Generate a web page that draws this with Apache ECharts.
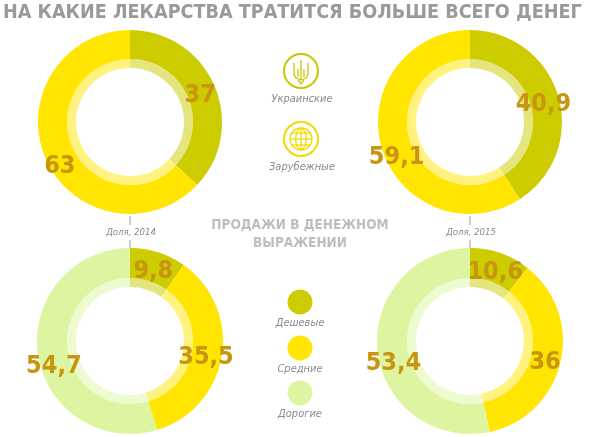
<!DOCTYPE html>
<html>
<head>
<meta charset="utf-8">
<script src="https://cdn.jsdelivr.net/npm/echarts@6/dist/echarts.min.js"></script>
<style>
  html, body { margin: 0; padding: 0; background: #fff; }
  #chart { width: 600px; height: 437px; }
</style>
</head>
<body>
<div id="chart"></div>
<script>
// данные
const yearLabels = ['Доля, 2014', 'Доля, 2015'];
const originNames = ['Украинские', 'Зарубежные'];
const origin2014 = [37, 63];
const origin2015 = [40.9, 59.1];
const priceNames = ['Дешевые', 'Средние', 'Дорогие'];
const price2014 = [9.8, 35.5, 54.7];
const price2015 = [10.6, 36, 53.4];

const originColors = ['#CCCC00', '#FFE500'];
const priceColors = ['#CCCC00', '#FFE500', '#DDF5A0'];

const FONT = '"DejaVu Sans Condensed", "Liberation Sans Narrow", Roboto, sans-serif';
const GREY = '#9a9a9a';

// одна "бублик"-диаграмма = внешнее кольцо + светлое внутреннее
function makeDonut(values, names, colors, center, outerR) {
  const data = values.map((v, i) => ({
    name: names[i],
    value: v,
    itemStyle: { color: colors[i] }
  }));
  const last = values.length - 1;
  return [
    {
      type: 'pie',
      center: center,
      radius: [63, outerR],
      startAngle: 90,
      clockwise: true,
      silent: true,
      label: {
        show: true,
        position: 'inside',
        formatter: p => String(p.value).replace('.', ','),
        color: '#C8950F',
        fontFamily: FONT,
        fontWeight: 'bold',
        fontSize: 25
      },
      // чуть ближе к центру и ниже, как в оригинале
      labelLayout: p => {
        const r = p.labelRect;
        const lx = r.x + r.width / 2;
        const ly = r.y + r.height / 2;
        const vx = lx - center[0];
        const vy = ly - center[1];
        const d = Math.hypot(vx, vy) || 1;
        return {
          x: lx - vx / d * 4,
          y: ly - vy / d * 4 + (p.dataIndex === last ? 14 : 4),
          align: 'center',
          verticalAlign: 'middle'
        };
      },
      labelLine: { show: false },
      data: data
    },
    {
      type: 'pie',
      center: center,
      radius: [54, 63],
      startAngle: 90,
      clockwise: true,
      silent: true,
      label: { show: false },
      itemStyle: { opacity: 0.5 },
      data: data
    }
  ];
}

const series = [].concat(
  makeDonut(origin2014, originNames, originColors, [130, 122], 92),
  makeDonut(origin2015, originNames, originColors, [470, 122], 92),
  makeDonut(price2014, priceNames, priceColors, [130, 341], 93),
  makeDonut(price2015, priceNames, priceColors, [470, 341], 93)
);

function legendText(text, x, y) {
  return {
    type: 'text',
    x: x, y: y,
    style: {
      text: text,
      textAlign: 'center',
      textVerticalAlign: 'middle',
      fill: '#8a8a8a',
      font: 'italic 11px ' + FONT
    }
  };
}

function seg(x1, y1, x2, y2, color, w) {
  return {
    type: 'line',
    shape: { x1: x1, y1: y1, x2: x2, y2: y2 },
    style: { stroke: color, lineWidth: w }
  };
}

function poly(points, color) {
  return {
    type: 'polyline',
    shape: { points: points },
    style: { fill: 'none', stroke: color, lineWidth: 1.3 }
  };
}

const OLIVE = '#C8C800';
const GOLD = '#F2DB00';

const graphics = [
  {
    type: 'text', x: 3, y: 13,
    style: {
      text: 'НА КАКИЕ ЛЕКАРСТВА ТРАТИТСЯ БОЛЬШЕ ВСЕГО ДЕНЕГ',
      textVerticalAlign: 'middle',
      fill: GREY,
      font: 'bold 19.6px ' + FONT
    }
  },
  {
    type: 'text', x: 300, y: 234,
    style: {
      text: 'ПРОДАЖИ В ДЕНЕЖНОМ\nВЫРАЖЕНИИ',
      textAlign: 'center',
      textVerticalAlign: 'middle',
      lineHeight: 18,
      fill: '#bdbdbd',
      font: 'bold 13.5px ' + FONT
    }
  },
  // засечки и подписи лет
  seg(130, 216, 130, 225, '#999', 1), seg(130, 240, 130, 248, '#999', 1),
  seg(470, 216, 470, 225, '#999', 1), seg(470, 240, 470, 248, '#999', 1),
  {
    type: 'text', x: 131, y: 233,
    style: { text: yearLabels[0], textAlign: 'center', textVerticalAlign: 'middle', fill: '#8a8a8a', font: 'italic 9.5px ' + FONT }
  },
  {
    type: 'text', x: 471, y: 233,
    style: { text: yearLabels[1], textAlign: 'center', textVerticalAlign: 'middle', fill: '#8a8a8a', font: 'italic 9.5px ' + FONT }
  },
  // значок: трезубец
  {
    type: 'group', x: 301, y: 71,
    children: [
      { type: 'circle', shape: { cx: 0, cy: 0, r: 17 }, style: { fill: 'none', stroke: OLIVE, lineWidth: 2 } },
      seg(0, -11, 0, 9, OLIVE, 1.3),
      poly([[-7, -8], [-7, 3], [-5, 7], [0, 9], [5, 7], [7, 3], [7, -8]], OLIVE),
      seg(-3, -2, -3, 6, OLIVE, 1.3),
      seg(3, -2, 3, 6, OLIVE, 1.3),
      poly([[-3, 9], [0, 13], [3, 9]], OLIVE)
    ]
  },
  legendText(originNames[0], 302, 99),
  // значок: глобус
  {
    type: 'group', x: 301, y: 139,
    children: [
      { type: 'circle', shape: { cx: 0, cy: 0, r: 17 }, style: { fill: 'none', stroke: GOLD, lineWidth: 2 } },
      { type: 'circle', shape: { cx: 0, cy: 0, r: 11 }, style: { fill: 'none', stroke: GOLD, lineWidth: 1.3 } },
      {
        type: 'bezierCurve',
        shape: { x1: 0, y1: -11, x2: 0, y2: 11, cpx1: -7, cpy1: -8, cpx2: -7, cpy2: 8 },
        style: { fill: 'none', stroke: GOLD, lineWidth: 1.3 }
      },
      {
        type: 'bezierCurve',
        shape: { x1: 0, y1: -11, x2: 0, y2: 11, cpx1: 7, cpy1: -8, cpx2: 7, cpy2: 8 },
        style: { fill: 'none', stroke: GOLD, lineWidth: 1.3 }
      },
      seg(0, -11, 0, 11, GOLD, 1.3),
      seg(-11, 0, 11, 0, GOLD, 1.3),
      seg(-9, -6, 9, -6, GOLD, 1.3),
      seg(-9, 6, 9, 6, GOLD, 1.3)
    ]
  },
  legendText(originNames[1], 302, 167)
];

// легенда цен: круги + подписи
const priceLegendY = [302, 348, 393];
priceNames.forEach((n, i) => {
  graphics.push({
    type: 'circle',
    shape: { cx: 300, cy: priceLegendY[i], r: 12.5 },
    style: { fill: priceColors[i] }
  });
  graphics.push(legendText(n, 300, priceLegendY[i] + 21));
});

const chart = echarts.init(document.getElementById('chart'));
chart.setOption({
  animation: false,
  backgroundColor: '#fff',
  graphic: graphics,
  series: series
});
</script>
</body>
</html>
